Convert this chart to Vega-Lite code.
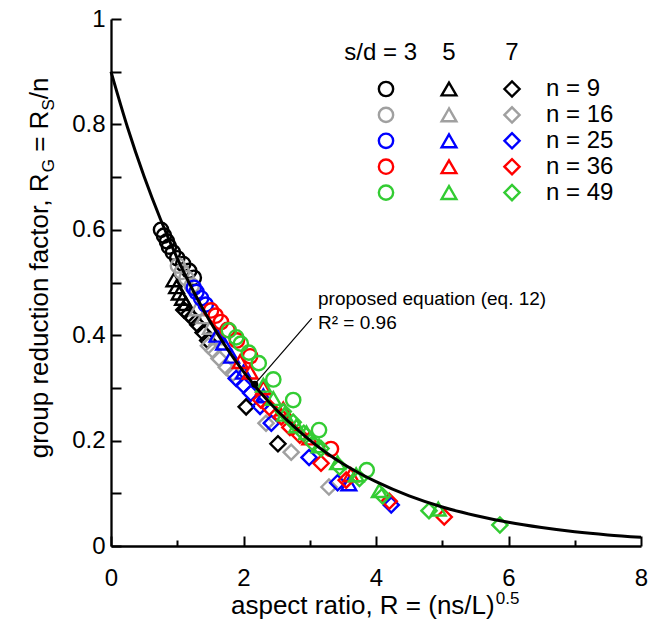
{
  "$schema": "https://vega.github.io/schema/vega-lite/v6.json",
  "width": 530,
  "height": 527,
  "autosize": "none",
  "padding": {"left": 111, "top": 19, "right": 13, "bottom": 80},
  "config": {"view": {"stroke": null}, "font": "Liberation Sans"},
  "datasets": {
    "main": [
      {"sd":7,"n":9,"R":1.10,"RG":0.448},{"sd":7,"n":9,"R":1.17,"RG":0.44},{"sd":7,"n":9,"R":1.23,"RG":0.432},{"sd":7,"n":9,"R":1.31,"RG":0.42},{"sd":7,"n":9,"R":1.39,"RG":0.405},{"sd":7,"n":9,"R":1.46,"RG":0.39},{"sd":7,"n":9,"R":2.04,"RG":0.264},{"sd":7,"n":9,"R":2.52,"RG":0.194},
      {"sd":5,"n":9,"R":0.95,"RG":0.505},{"sd":5,"n":9,"R":0.99,"RG":0.492},{"sd":5,"n":9,"R":1.03,"RG":0.48},{"sd":5,"n":9,"R":1.08,"RG":0.47},{"sd":5,"n":9,"R":1.13,"RG":0.46},
      {"sd":3,"n":9,"R":0.755,"RG":0.600},{"sd":3,"n":9,"R":0.80,"RG":0.589},{"sd":3,"n":9,"R":0.845,"RG":0.578},{"sd":3,"n":9,"R":0.875,"RG":0.568},{"sd":3,"n":9,"R":0.935,"RG":0.557},{"sd":3,"n":9,"R":1.00,"RG":0.546},{"sd":3,"n":9,"R":1.09,"RG":0.535},{"sd":3,"n":9,"R":1.18,"RG":0.522},{"sd":3,"n":9,"R":1.25,"RG":0.509},
      {"sd":7,"n":16,"R":1.47,"RG":0.38},{"sd":7,"n":16,"R":1.54,"RG":0.371},{"sd":7,"n":16,"R":1.63,"RG":0.356},{"sd":7,"n":16,"R":1.74,"RG":0.339},{"sd":7,"n":16,"R":1.84,"RG":0.328},{"sd":7,"n":16,"R":2.34,"RG":0.233},{"sd":7,"n":16,"R":2.72,"RG":0.178},{"sd":7,"n":16,"R":3.29,"RG":0.112},
      {"sd":5,"n":16,"R":1.30,"RG":0.45},{"sd":5,"n":16,"R":1.40,"RG":0.435},{"sd":5,"n":16,"R":1.50,"RG":0.415},{"sd":5,"n":16,"R":1.60,"RG":0.395},
      {"sd":3,"n":16,"R":1.01,"RG":0.532},{"sd":3,"n":16,"R":1.07,"RG":0.52},{"sd":3,"n":16,"R":1.14,"RG":0.508},{"sd":3,"n":16,"R":1.22,"RG":0.494},
      {"sd":7,"n":25,"R":1.89,"RG":0.318},{"sd":7,"n":25,"R":2.00,"RG":0.305},{"sd":7,"n":25,"R":2.11,"RG":0.29},{"sd":7,"n":25,"R":2.25,"RG":0.265},{"sd":7,"n":25,"R":2.42,"RG":0.233},{"sd":7,"n":25,"R":2.99,"RG":0.168},{"sd":7,"n":25,"R":3.42,"RG":0.12},{"sd":7,"n":25,"R":4.23,"RG":0.078},
      {"sd":5,"n":25,"R":1.60,"RG":0.40},{"sd":5,"n":25,"R":1.70,"RG":0.385},{"sd":5,"n":25,"R":1.82,"RG":0.36},{"sd":5,"n":25,"R":2.00,"RG":0.33},{"sd":5,"n":25,"R":2.30,"RG":0.285},{"sd":5,"n":25,"R":3.59,"RG":0.118},
      {"sd":3,"n":25,"R":1.25,"RG":0.49},{"sd":3,"n":25,"R":1.29,"RG":0.482},{"sd":3,"n":25,"R":1.36,"RG":0.47},{"sd":3,"n":25,"R":1.43,"RG":0.458},
      {"sd":7,"n":36,"R":2.26,"RG":0.277},{"sd":7,"n":36,"R":2.39,"RG":0.263},{"sd":7,"n":36,"R":2.57,"RG":0.245},{"sd":7,"n":36,"R":2.70,"RG":0.225},{"sd":7,"n":36,"R":2.85,"RG":0.21},{"sd":7,"n":36,"R":3.17,"RG":0.157},{"sd":7,"n":36,"R":3.55,"RG":0.125},{"sd":7,"n":36,"R":4.20,"RG":0.085},{"sd":7,"n":36,"R":5.03,"RG":0.055},
      {"sd":5,"n":36,"R":1.95,"RG":0.35},{"sd":5,"n":36,"R":2.10,"RG":0.33},{"sd":5,"n":36,"R":2.30,"RG":0.30},{"sd":5,"n":36,"R":2.60,"RG":0.26},{"sd":5,"n":36,"R":3.00,"RG":0.205},{"sd":5,"n":36,"R":3.62,"RG":0.135},
      {"sd":3,"n":36,"R":1.51,"RG":0.447},{"sd":3,"n":36,"R":1.58,"RG":0.437},{"sd":3,"n":36,"R":1.66,"RG":0.425},{"sd":3,"n":36,"R":1.76,"RG":0.41},{"sd":3,"n":36,"R":1.90,"RG":0.39},{"sd":3,"n":36,"R":2.10,"RG":0.36},{"sd":3,"n":36,"R":3.32,"RG":0.184},
      {"sd":7,"n":49,"R":2.60,"RG":0.255},{"sd":7,"n":49,"R":2.75,"RG":0.235},{"sd":7,"n":49,"R":2.91,"RG":0.214},{"sd":7,"n":49,"R":3.05,"RG":0.195},{"sd":7,"n":49,"R":3.17,"RG":0.185},{"sd":7,"n":49,"R":3.45,"RG":0.15},{"sd":7,"n":49,"R":3.75,"RG":0.128},{"sd":7,"n":49,"R":4.10,"RG":0.095},{"sd":7,"n":49,"R":4.80,"RG":0.067},{"sd":7,"n":49,"R":5.87,"RG":0.04},
      {"sd":5,"n":49,"R":2.30,"RG":0.305},{"sd":5,"n":49,"R":2.45,"RG":0.28},{"sd":5,"n":49,"R":2.62,"RG":0.25},{"sd":5,"n":49,"R":2.80,"RG":0.228},{"sd":5,"n":49,"R":2.95,"RG":0.215},{"sd":5,"n":49,"R":3.14,"RG":0.19},{"sd":5,"n":49,"R":3.42,"RG":0.158},{"sd":5,"n":49,"R":3.70,"RG":0.135},{"sd":5,"n":49,"R":4.05,"RG":0.105},{"sd":5,"n":49,"R":4.94,"RG":0.07},
      {"sd":3,"n":49,"R":1.78,"RG":0.409},{"sd":3,"n":49,"R":1.89,"RG":0.396},{"sd":3,"n":49,"R":1.96,"RG":0.384},{"sd":3,"n":49,"R":2.08,"RG":0.367},{"sd":3,"n":49,"R":2.23,"RG":0.347},{"sd":3,"n":49,"R":2.45,"RG":0.316},{"sd":3,"n":49,"R":2.75,"RG":0.277},{"sd":3,"n":49,"R":3.14,"RG":0.22},{"sd":3,"n":49,"R":3.86,"RG":0.144}
    ],
    "curve": [
      {"R":0,"RG":0.9},{"R":0.25,"RG":0.794},{"R":0.5,"RG":0.701},{"R":0.75,"RG":0.619},{"R":1,"RG":0.546},{"R":1.25,"RG":0.482},{"R":1.5,"RG":0.425},{"R":1.75,"RG":0.375},{"R":2,"RG":0.331},{"R":2.25,"RG":0.292},{"R":2.5,"RG":0.258},{"R":2.75,"RG":0.228},{"R":3,"RG":0.201},{"R":3.25,"RG":0.177},{"R":3.5,"RG":0.156},{"R":3.75,"RG":0.138},{"R":4,"RG":0.122},{"R":4.5,"RG":0.095},{"R":5,"RG":0.074},{"R":5.5,"RG":0.058},{"R":6,"RG":0.045},{"R":6.5,"RG":0.035},{"R":7,"RG":0.027},{"R":7.5,"RG":0.021},{"R":8,"RG":0.0165}
    ],
    "legend": [
      {"sd":3,"n":9},{"sd":5,"n":9},{"sd":7,"n":9},
      {"sd":3,"n":16},{"sd":5,"n":16},{"sd":7,"n":16},
      {"sd":3,"n":25},{"sd":5,"n":25},{"sd":7,"n":25},
      {"sd":3,"n":36},{"sd":5,"n":36},{"sd":7,"n":36},
      {"sd":3,"n":49},{"sd":5,"n":49},{"sd":7,"n":49}
    ],
    "nlabels": [
      {"n":9,"label":"n = 9"},{"n":16,"label":"n = 16"},{"n":25,"label":"n = 25"},{"n":36,"label":"n = 36"},{"n":49,"label":"n = 49"}
    ],
    "sdlabels": [
      {"sd":5,"label":"5"},{"sd":7,"label":"7"}
    ],
    "one": [{}]
  },
  "resolve": {"scale": {"x": "independent", "y": "independent"}},
  "layer": [
    {
      "layer": [
        {
          "data": {"name": "main"},
          "mark": {"type": "point", "filled": false, "strokeWidth": 2.4, "opacity": 1},
          "encoding": {
            "x": {"field": "R", "type": "quantitative",
              "scale": {"domain": [0, 8], "nice": false, "zero": false},
              "axis": {"values": [0,0.5,1,1.5,2,2.5,3,3.5,4,4.5,5,5.5,6,6.5,7,7.5,8],
                "format": "~g", "labelExpr": "datum.value % 2 == 0 ? datum.label : ''",
                "title": null, "grid": false, "domainColor": "black", "domainWidth": 2.3,
                "tickColor": "black", "tickWidth": 2,
                "tickSize": {"condition": {"test": "datum.value % 2 == 0", "value": -10}, "value": -6},
                "labelFontSize": 24, "labelColor": "black", "labelFont": "Liberation Sans",
                "labelPadding": 30, "labelFlush": false, "labelOverlap": false}},
            "y": {"field": "RG", "type": "quantitative",
              "scale": {"domain": [0, 1], "nice": false, "zero": false},
              "axis": {"values": [0,0.1,0.2,0.3,0.4,0.5,0.6,0.7,0.8,0.9,1],
                "format": "~g", "labelExpr": "round(datum.value*10) % 2 == 0 ? datum.label : ''",
                "title": null, "grid": false, "domainColor": "black", "domainWidth": 2.3,
                "tickColor": "black", "tickWidth": 2, "tickSize": -10,
                "labelFontSize": 24, "labelColor": "black", "labelFont": "Liberation Sans",
                "labelPadding": 16, "labelOverlap": false}},
            "color": {"field": "n", "type": "nominal",
              "scale": {"domain": [9,16,25,36,49], "range": ["#000000","#a0a0a0","#0000ff","#ff0000","#33cc33"]}, "legend": null},
            "shape": {"field": "sd", "type": "nominal",
              "scale": {"domain": [3,5,7], "range": ["circle","triangle-up","diamond"]}, "legend": null},
            "size": {"field": "sd", "type": "ordinal",
              "scale": {"domain": [3,5,7], "range": [205,230,230]}, "legend": null}
          }
        },
        {
          "data": {"name": "curve"},
          "mark": {"type": "line", "color": "black", "strokeWidth": 3, "interpolate": "monotone"},
          "encoding": {
            "x": {"field": "R", "type": "quantitative"},
            "y": {"field": "RG", "type": "quantitative"}
          }
        },
        {
          "data": {"name": "one"},
          "mark": {"type": "rule", "color": "black", "strokeWidth": 1.2},
          "encoding": {
            "x": {"datum": 2.17}, "y": {"datum": 0.307},
            "x2": {"datum": 3.03}, "y2": {"datum": 0.432}
          }
        },
        {
          "data": {"name": "one"},
          "mark": {"type": "point", "filled": true, "color": "black", "size": 50, "opacity": 1},
          "encoding": {"x": {"datum": 2.17}, "y": {"datum": 0.307}}
        },
        {
          "data": {"name": "one"},
          "mark": {"type": "text", "text": "proposed equation (eq. 12)", "align": "left", "baseline": "alphabetic", "fontSize": 19, "color": "black"},
          "encoding": {"x": {"datum": 3.125}, "y": {"datum": 0.457}}
        },
        {
          "data": {"name": "one"},
          "mark": {"type": "text", "text": "R² = 0.96", "align": "left", "baseline": "alphabetic", "fontSize": 19, "color": "black"},
          "encoding": {"x": {"datum": 3.125}, "y": {"datum": 0.412}}
        },
        {
          "data": {"name": "one"},
          "mark": {"type": "text", "text": "aspect ratio, R = (ns/L)", "align": "left", "baseline": "alphabetic", "fontSize": 26, "color": "black"},
          "encoding": {"x": {"datum": 1.811}, "y": {"datum": -0.129}}
        },
        {
          "data": {"name": "one"},
          "mark": {"type": "text", "text": "0.5", "align": "left", "baseline": "alphabetic", "fontSize": 17, "color": "black"},
          "encoding": {"x": {"datum": 5.807}, "y": {"datum": -0.110}}
        },
        {
          "data": {"name": "one"},
          "mark": {"type": "text", "text": "group reduction factor, R", "align": "left", "baseline": "alphabetic", "angle": 270, "fontSize": 26, "color": "black"},
          "encoding": {"x": {"datum": -0.951}, "y": {"datum": 0.1664}}
        },
        {
          "data": {"name": "one"},
          "mark": {"type": "text", "text": "G", "align": "left", "baseline": "alphabetic", "angle": 270, "fontSize": 17, "color": "black"},
          "encoding": {"x": {"datum": -0.860}, "y": {"datum": 0.7093}}
        },
        {
          "data": {"name": "one"},
          "mark": {"type": "text", "text": "=\u00a0R", "align": "left", "baseline": "alphabetic", "angle": 270, "fontSize": 26, "color": "black"},
          "encoding": {"x": {"datum": -0.951}, "y": {"datum": 0.748}}
        },
        {
          "data": {"name": "one"},
          "mark": {"type": "text", "text": "S", "align": "left", "baseline": "alphabetic", "angle": 270, "fontSize": 17, "color": "black"},
          "encoding": {"x": {"datum": -0.860}, "y": {"datum": 0.8262}}
        },
        {
          "data": {"name": "one"},
          "mark": {"type": "text", "text": "/n", "align": "left", "baseline": "alphabetic", "angle": 270, "fontSize": 26, "color": "black"},
          "encoding": {"x": {"datum": -0.951}, "y": {"datum": 0.8476}}
        }
      ]
    },
    {
      "layer": [
        {
          "data": {"name": "legend"},
          "mark": {"type": "point", "filled": false, "strokeWidth": 2.4, "opacity": 1},
          "encoding": {
            "x": {"field": "sd", "type": "quantitative", "scale": {"domain": [-5.730, 11.095], "nice": false, "zero": false}, "axis": null},
            "y": {"field": "n", "type": "quantitative", "scale": {"type": "sqrt", "domain": [0.0884, 426.2], "reverse": true, "nice": false, "zero": false}, "axis": null},
            "color": {"field": "n", "type": "nominal",
              "scale": {"domain": [9,16,25,36,49], "range": ["#000000","#a0a0a0","#0000ff","#ff0000","#33cc33"]}, "legend": null},
            "shape": {"field": "sd", "type": "nominal",
              "scale": {"domain": [3,5,7], "range": ["circle","triangle-up","diamond"]}, "legend": null},
            "size": {"field": "sd", "type": "ordinal",
              "scale": {"domain": [3,5,7], "range": [205,230,230]}, "legend": null}
          }
        },
        {
          "data": {"name": "nlabels"},
          "mark": {"type": "text", "align": "left", "baseline": "middle", "fontSize": 24, "color": "black"},
          "encoding": {
            "x": {"datum": 8.079},
            "y": {"field": "n", "type": "quantitative"},
            "text": {"field": "label"}
          }
        },
        {
          "data": {"name": "sdlabels"},
          "mark": {"type": "text", "align": "center", "baseline": "middle", "fontSize": 24, "color": "black"},
          "encoding": {
            "x": {"field": "sd", "type": "quantitative"},
            "y": {"datum": 2.592},
            "text": {"field": "label"}
          }
        },
        {
          "data": {"name": "one"},
          "mark": {"type": "text", "text": "s/d = 3", "align": "right", "baseline": "middle", "fontSize": 24, "color": "black"},
          "encoding": {"x": {"datum": 3.984}, "y": {"datum": 2.592}}
        }
      ]
    }
  ]
}
